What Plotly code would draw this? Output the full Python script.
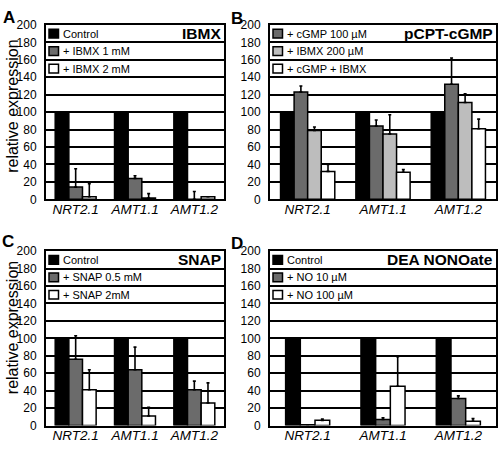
import plotly.graph_objects as go

# ---------------- data ----------------
categories = ["NRT2.1", "AMT1.1", "AMT1.2"]

# Panel A – IBMX
a_names = ["Control", "+ IBMX 1 mM", "+ IBMX 2 mM"]
a_control = [100, 100, 100]
a_ibmx1 = [14, 24, 0]
a_ibmx1_err = [21, 3, 9]
a_ibmx2 = [3, 1.5, 3]
a_ibmx2_err = [15, 5, 0]

# Panel B – pCPT-cGMP
b_names = ["Control", "+ cGMP 100 µM", "+ IBMX 200 µM", "+ cGMP + IBMX"]
b_control = [100, 100, 100]
b_cgmp = [123, 84, 132]
b_cgmp_err = [7, 7, 30]
b_ibmx = [79, 75, 111]
b_ibmx_err = [4, 22, 10]
b_combo = [32, 31, 81]
b_combo_err = [8, 3, 11]

# Panel C – SNAP
c_names = ["Control", "+ SNAP 0.5 mM", "+ SNAP 2mM"]
c_control = [100, 100, 100]
c_snap05 = [76, 64, 41]
c_snap05_err = [27, 26, 10]
c_snap2 = [41, 11, 26]
c_snap2_err = [23, 10, 23]

# Panel D – DEA NONOate
d_names = ["Control", "+ NO 10 µM", "+ NO 100 µM"]
d_control = [100, 100, 100]
d_no10 = [1, 7, 31]
d_no10_err = [0, 2, 3]
d_no100 = [6, 45, 5]
d_no100_err = [1.5, 34, 3]

y_ticks = [0, 20, 40, 60, 80, 100, 120, 140, 160, 180, 200]

# ---------------- styling ----------------
W, H = 498, 450
FONT = "Liberation Sans, Arial, Helvetica, sans-serif"
BLACK, DARK, LIGHT, WHITE = "#000000", "#6b6b6b", "#bdbdbd", "#ffffff"

panels = [
    dict(letter="A", title="IBMX", x=(46, 224), y=(18.5, 198.5), group=0.69,
         series=[(a_names[0], a_control, None, BLACK),
                 (a_names[1], a_ibmx1, a_ibmx1_err, DARK),
                 (a_names[2], a_ibmx2, a_ibmx2_err, WHITE)],
         legend=[0, 1, 2], letter_pos=(8.5, 10.5), ytitle=(12.5, 102.5)),
    dict(letter="B", title="pCPT-cGMP", x=(270, 496), y=(18.5, 198.5), group=0.72,
         series=[(b_names[0], b_control, None, BLACK),
                 (b_names[1], b_cgmp, b_cgmp_err, DARK),
                 (b_names[2], b_ibmx, b_ibmx_err, LIGHT),
                 (b_names[3], b_combo, b_combo_err, WHITE)],
         legend=[1, 2, 3], letter_pos=(237, 11.5), ytitle=None),
    dict(letter="C", title="SNAP", x=(46, 224), y=(252, 432), group=0.69,
         series=[(c_names[0], c_control, None, BLACK),
                 (c_names[1], c_snap05, c_snap05_err, DARK),
                 (c_names[2], c_snap2, c_snap2_err, WHITE)],
         legend=[0, 1, 2], letter_pos=(8, 242.5), ytitle=(12.5, 331)),
    dict(letter="D", title="DEA NONOate", x=(270, 496), y=(252, 432), group=0.585,
         series=[(d_names[0], d_control, None, BLACK),
                 (d_names[1], d_no10, d_no10_err, DARK),
                 (d_names[2], d_no100, d_no100_err, WHITE)],
         legend=[0, 1, 2], letter_pos=(237, 244.5), ytitle=None),
]

fig = go.Figure()
shapes, annotations = [], []

for i, p in enumerate(panels):
    n = i + 1
    xa = "x" if n == 1 else f"x{n}"
    ya = "y" if n == 1 else f"y{n}"
    k = len(p["series"])
    g = p["group"]
    w = g / k
    for j, (name, vals, err, color) in enumerate(p["series"]):
        fig.add_trace(go.Bar(
            x=categories, y=vals, name=name, xaxis=xa, yaxis=ya,
            width=w, offset=-g / 2 + j * w,
            marker=dict(color=color, line=dict(color=BLACK, width=1.5)),
            error_y=dict(type="data", array=err if err else [0, 0, 0],
                         arrayminus=[0, 0, 0], symmetric=False,
                         color=BLACK, thickness=1.6, width=1.5,
                         visible=err is not None),
            showlegend=False, hoverinfo="x+y+name",
        ))

    x0, x1 = p["x"]
    y0, y1 = p["y"]
    fig.layout["xaxis" if n == 1 else f"xaxis{n}"] = dict(
        domain=[x0 / W, x1 / W], anchor=ya, showline=True, mirror=True,
        linecolor=BLACK, linewidth=2, ticks="", ticklen=0, showgrid=False,
        tickfont=dict(family=FONT, size=13.5, color=BLACK, style="italic"),
        ticklabelstandoff=-4, fixedrange=True,
    )
    fig.layout["yaxis" if n == 1 else f"yaxis{n}"] = dict(
        domain=[1 - y1 / H, 1 - y0 / H], anchor=xa, range=[0, 200],
        tickvals=y_ticks, showline=True, mirror=True, linecolor=BLACK,
        linewidth=2, showgrid=True, gridcolor=BLACK, gridwidth=1.8,
        zeroline=False, ticks="", ticklabelstandoff=5,
        tickfont=dict(family=FONT, size=12, color=BLACK), fixedrange=True,
    )

    # legend rows drawn inside the top grid cells
    pw = x1 - x0
    for r, si in enumerate(p["legend"]):
        name, _, _, color = p["series"][si]
        yc = 200 - 10 - 20 * r
        shapes.append(dict(type="rect", xref=f"{xa} domain", yref=ya,
                           x0=3 / pw, x1=12.5 / pw, y0=yc - 5, y1=yc + 5,
                           fillcolor=color, line=dict(color=BLACK, width=1.5)))
        annotations.append(dict(text=name, xref=f"{xa} domain", yref=ya,
                                x=15 / pw, y=yc, xanchor="left", yanchor="middle",
                                showarrow=False,
                                font=dict(family=FONT, size=11, color=BLACK)))
    # panel title
    annotations.append(dict(text=f"<b>{p['title']}</b>", xref=f"{xa} domain", yref=ya,
                            x=1 - 1.5 / pw, y=190, xanchor="right", yanchor="middle",
                            showarrow=False,
                            font=dict(family=FONT, size=15.5, color=BLACK)))
    # panel letter
    lx, ly = p["letter_pos"]
    annotations.append(dict(text=f"<b>{p['letter']}</b>", xref="paper", yref="paper",
                            x=lx / W, y=1 - ly / H, xanchor="center", yanchor="middle",
                            showarrow=False,
                            font=dict(family=FONT, size=17, color=BLACK)))
    # y axis title
    if p["ytitle"]:
        tx, ty = p["ytitle"]
        annotations.append(dict(text="relative expression", xref="paper", yref="paper",
                                x=tx / W, y=1 - ty / H, xanchor="center", yanchor="middle",
                                textangle=-90, showarrow=False,
                                font=dict(family=FONT, size=16, color=BLACK)))

fig.update_layout(
    width=W, height=H, margin=dict(l=0, r=0, t=0, b=0),
    paper_bgcolor=WHITE, plot_bgcolor=WHITE, barmode="group",
    shapes=shapes, annotations=annotations, showlegend=False,
    font=dict(family=FONT, color=BLACK),
)

fig.write_html("out.html", config={"displayModeBar": False},
               post_script="document.body.style.margin='0';document.body.style.overflow='hidden';")
